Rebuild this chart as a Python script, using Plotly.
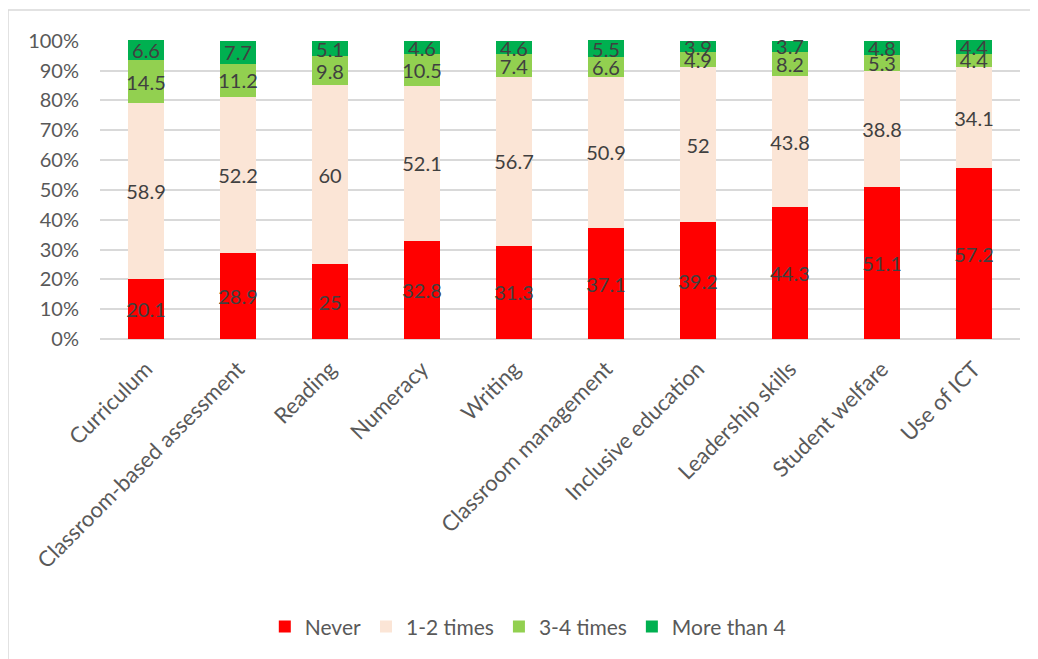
import plotly.graph_objects as go

categories = ["Curriculum", "Classroom-based assessment", "Reading", "Numeracy", "Writing",
              "Classroom management", "Inclusive education", "Leadership skills",
              "Student welfare", "Use of ICT"]
never = [20.1, 28.9, 25, 32.8, 31.3, 37.1, 39.2, 44.3, 51.1, 57.2]
times_1_2 = [58.9, 52.2, 60, 52.1, 56.7, 50.9, 52, 43.8, 38.8, 34.1]
times_3_4 = [14.5, 11.2, 9.8, 10.5, 7.4, 6.6, 4.9, 8.2, 5.3, 4.4]
more_than_4 = [6.6, 7.7, 5.1, 4.6, 4.6, 5.5, 3.9, 3.7, 4.8, 4.4]

series = [
    ("Never", never, "#FF0000"),
    ("1-2 times", times_1_2, "#FBE5D6"),
    ("3-4 times", times_3_4, "#92D050"),
    ("More than 4", more_than_4, "#00B050"),
]

FONT = "Lato"
fig = go.Figure()
for name, vals, col in series:
    fig.add_trace(go.Bar(
        name=name, x=categories, y=vals, marker_color=col, marker_line_width=0,
        text=[f"{v:g}" for v in vals], textposition="inside", insidetextanchor="middle",
        textangle=0, textfont=dict(family=FONT, size=20, color="#404040"),
        constraintext="none", cliponaxis=False,
    ))

fig.update_layout(
    barmode="stack", bargap=0.6,
    width=1038, height=659,
    margin=dict(l=92, r=26, t=32, b=328),
    paper_bgcolor="white", plot_bgcolor="white",
    font=dict(family=FONT, size=20, color="#595959"),
    uniformtext=dict(minsize=20, mode="show"),
    legend=dict(orientation="h", x=0.465, xanchor="center", y=-0.963, yanchor="middle",
                font=dict(family=FONT, size=21, color="#595959"), traceorder="normal",
                itemwidth=30),
    showlegend=True,
    shapes=[dict(type="rect", xref="paper", yref="paper",
                 x0=-0.10, x1=1.2, y0=-1.5, y1=1.1,
                 line=dict(color="#D9D9D9", width=1.5), layer="below")],
)
fig.update_yaxes(range=[0, 100.25], dtick=10, ticksuffix="%", showgrid=True,
                 gridcolor="#D9D9D9", gridwidth=1.5, zeroline=True, zerolinecolor="#D9D9D9",
                 zerolinewidth=1.5, showline=False, ticks="", ticklen=0,
                 ticklabelstandoff=20,
                 tickfont=dict(family=FONT, size=20, color="#595959"))
fig.update_xaxes(tickangle=-45, showline=False, ticks="", ticklabelstandoff=12,
                 tickfont=dict(family=FONT, size=22, color="#595959"))

fig.write_html("out.html")
